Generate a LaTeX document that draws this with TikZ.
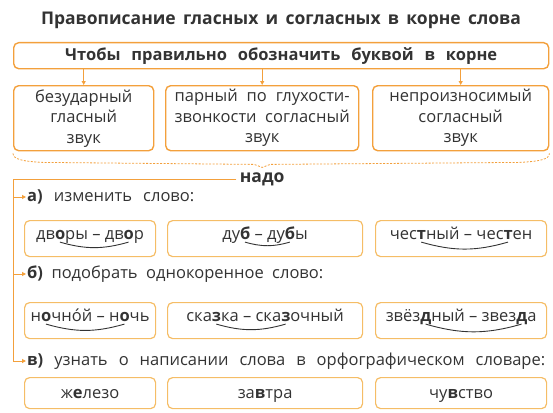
\documentclass[tikz,border=0pt]{standalone}
\usepackage{fontspec}
\setmainfont{Open Sans}
\usetikzlibrary{calc,arrows.meta}

\definecolor{ink}{HTML}{333333}
\definecolor{frame}{HTML}{F3A03C}
\definecolor{rowframe}{HTML}{F5BD66}

% word pair with two marked letters, remembers where the arc goes
\newcommand\pair[5]{%
  \setbox0\hbox{#1}\setbox2\hbox{\textbf{#2}}%
  \setbox4\hbox{#3}\setbox6\hbox{\textbf{#4}}%
  \dimen0=\wd0 \advance\dimen0 by .5\wd2 \xdef\arcfrom{\the\dimen0}%
  \advance\dimen0 by .5\wd2 \advance\dimen0 by \wd4 \advance\dimen0 by .5\wd6
  \xdef\arcto{\the\dimen0}%
  \box0\box2\box4\box6#5}
\newcommand\underarc[1]{%
  \draw[arc] ($(#1.base west)+(\arcfrom,-2.5pt)$) to[bend right=16] ($(#1.base west)+(\arcto,-2.5pt)$);}

\begin{document}
\begin{tikzpicture}[x=1pt,y=-1pt,
  big/.style={font=\fontsize{16.5}{20.5}\selectfont},
  heavy/.style={font=\bfseries\fontsize{16.5}{20}\selectfont},
  headline/.style={font=\bfseries\fontsize{17.5}{21}\selectfont},
  box/.style={draw=frame,line width=1.4pt,rounded corners=5pt,text=ink,
    anchor=north west,inner sep=0pt,big},
  rowbox/.style={draw=rowframe,line width=1.2pt,rounded corners=5pt,anchor=north west},
  line/.style={draw=frame,line width=1pt},
  arrow/.style={line,-{Triangle[length=4pt,width=4pt]}},
  brace/.style={draw=frame,line width=0.8pt,dash pattern=on 2pt off 1.5pt},
  example/.style={text=ink,inner sep=0pt,anchor=base,big},
  task/.style={text=ink,inner sep=1pt,anchor=west,big},
  arc/.style={draw=ink,line width=0.9pt}]

\useasboundingbox (0,0) rectangle (553,412);

\node[text=ink,headline] (title) at (281,20)
  {\makebox[480pt][s]{Правописание гласных и согласных в корне слова}};

\node[box,heavy,minimum width=535pt,minimum height=26pt]
  (goal) at (13,42) {\makebox[432pt][s]{Чтобы правильно обозначить буквой в корне}};

\node[box,minimum width=140pt,minimum height=65pt,align=center] (b1) at (13,85)
  {безударный\\гласный\\звук};
\node[box,minimum width=193pt,minimum height=65pt,align=center] (b2) at (165,85)
  {\makebox[175pt][s]{парный по глухости-}\\\makebox[175pt][s]{звонкости согласный}\\звук};
\node[box,minimum width=176pt,minimum height=65pt,align=center] (b3) at (372,85)
  {непроизносимый\\согласный\\звук};

\draw[arrow] (goal.south -| b1.north) -- (b1.north);
\draw[arrow] (goal.south -| b2.north) -- (b2.north);
\draw[arrow] (goal.south -| b3.north) -- (b3.north);

\coordinate (bl) at ($(b1.south west)+(0,2)$);
\coordinate (br) at ($(b3.south east)+(0,2)$);
\coordinate (tip) at ($(b2.south)+(0,16)$);
\draw[brace] (bl) .. controls +(0,6) and +(-20,-1) .. ($(bl)+(30,9)$)
  -- ($(tip)+(-8,-3)$) -- (tip) -- ($(tip)+(8,-3)$)
  -- ($(br)+(-30,9)$) .. controls +(20,-1) and +(0,6) .. (br);

\node[text=ink,headline] (nado) at ($(tip)+(0,12)$) {надо};
\coordinate (spine) at (b1.west |- nado);

% a)
\node[task] (la) at (26,197) {\makebox[167pt][s]{\textbf{а)} изменить слово:}};
\node[rowbox,minimum width=131pt,minimum height=36pt] (a1) at (24,220) {};
\node[rowbox,minimum width=195pt,minimum height=36pt] (a2) at (167,220) {};
\node[rowbox,minimum width=171pt,minimum height=36pt] (a3) at (375,220) {};
\node[example] (ta1) at ($(a1.center)+(0,1)$) {\pair{дв}{о}{ры – дв}{о}{р}};
\underarc{ta1}
\node[example] (ta2) at ($(a2.center)+(0,1)$) {\pair{ду}{б}{ – ду}{б}{ы}};
\underarc{ta2}
\node[example] (ta3) at ($(a3.center)+(0,1)$) {\pair{чес}{т}{ный – чес}{т}{ен}};
\underarc{ta3}

% b)
\node[task] (lb) at (26,274) {\makebox[296pt][s]{\textbf{б)} подобрать однокоренное слово:}};
\node[rowbox,minimum width=131pt,minimum height=36pt] (b1r) at (24,302) {};
\node[rowbox,minimum width=195pt,minimum height=36pt] (b2r) at (167,302) {};
\node[rowbox,minimum width=171pt,minimum height=36pt] (b3r) at (375,302) {};
\node[example] (tb1) at ($(b1r.center)+(0,1)$) {\pair{н}{о}{чнóй – н}{о}{чь}};
\underarc{tb1}
\node[example] (tb2) at ($(b2r.center)+(0,1)$) {\pair{ска}{з}{ка – ска}{з}{очный}};
\underarc{tb2}
\node[example] (tb3) at ($(b3r.center)+(0,1)$) {\pair{звёз}{д}{ный – звез}{д}{а}};
\underarc{tb3}

% c)
\node[task] (lc) at (26,361)
  {\makebox[518pt][s]{\textbf{в)} узнать о написании слова в орфографическом словаре:}};
\node[rowbox,minimum width=131pt,minimum height=31pt] (c1) at (24,377) {};
\node[rowbox,minimum width=195pt,minimum height=31pt] (c2) at (167,377) {};
\node[rowbox,minimum width=171pt,minimum height=31pt] (c3) at (375,377) {};
\node[example] (tc1) at ($(c1.center)+(0,5)$) {ж\textbf{е}лезо};
\node[example] (tc2) at ($(c2.center)+(0,5)$) {за\textbf{в}тра};
\node[example] (tc3) at ($(c3.center)+(0,5)$) {чу\textbf{в}ство};

\draw[arrow] (nado.west) -- (spine) |- (lc.west);
\draw[arrow] (spine |- la.west) -- (la.west);
\draw[arrow] (spine |- lb.west) -- (lb.west);

\end{tikzpicture}
\end{document}
